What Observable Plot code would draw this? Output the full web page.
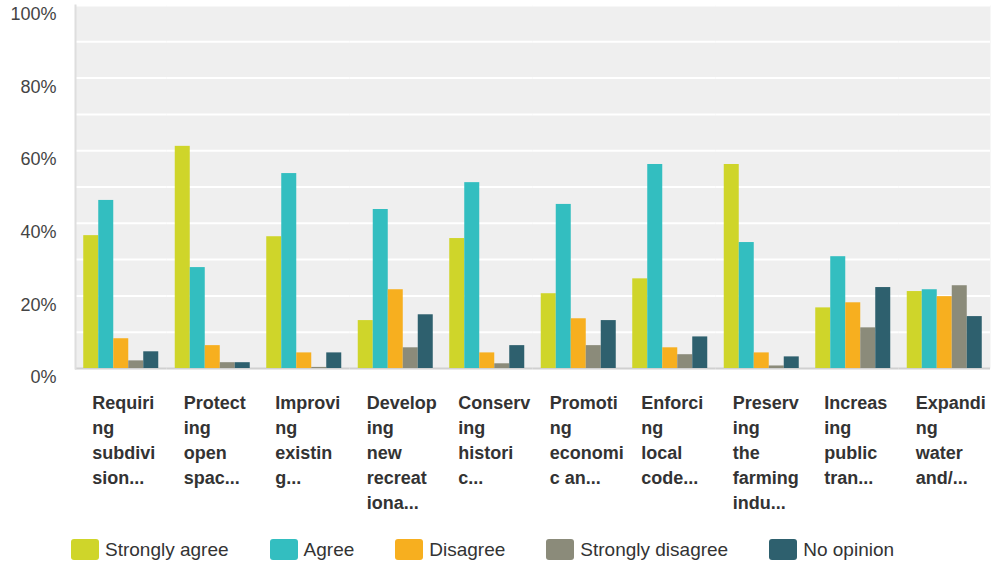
<!DOCTYPE html>
<html>
<head>
<meta charset="utf-8">
<script src="https://cdn.jsdelivr.net/npm/d3@7"></script>
<script src="https://cdn.jsdelivr.net/npm/@observablehq/plot@0.6"></script>
<style>
  html, body { margin: 0; padding: 0; background: #fff; }
  body { width: 995px; height: 564px; overflow: hidden; font-family: "Liberation Sans", Arial, sans-serif; }
  #legend { display: flex; align-items: center; margin-top: 14px; padding-left: 71px; height: 21px; }
  .item { display: flex; align-items: center; margin-right: 41px; font-size: 19px; color: #333; }
  .sw { width: 28px; height: 21px; border-radius: 3px; margin-right: 6px; }
</style>
</head>
<body>
<div id="chart"></div>
<div id="legend"></div>
<script>
const questions = [
  "Requiring subdivision...", "Protecting open spac...", "Improving existing...",
  "Developing new recreationa...", "Conserving historic...", "Promoting economic an...",
  "Enforcing local code...", "Preserving the farming indu...", "Increasing public tran...",
  "Expanding water and/..."
];
const tickLabels = [
  "Requiri\nng\nsubdivi\nsion...", "Protect\ning\nopen\nspac...", "Improvi\nng\nexistin\ng...",
  "Develop\ning\nnew\nrecreat\niona...", "Conserv\ning\nhistori\nc...", "Promoti\nng\neconomi\nc an...",
  "Enforci\nng\nlocal\ncode...", "Preserv\ning\nthe\nfarming\nindu...", "Increas\ning\npublic\ntran...",
  "Expandi\nng\nwater\nand/..."
];
const responses = ["Strongly agree", "Agree", "Disagree", "Strongly disagree", "No opinion"];
const colors = ["#cfd52a", "#33bec0", "#f7af1f", "#8b8b7a", "#2e606e"];

const stronglyAgree    = [36.6, 61.2, 36.3, 13.2, 35.8, 20.6, 24.7, 56.2, 16.7, 21.2];
const agree            = [46.3, 27.8, 53.7, 43.8, 51.2, 45.2, 56.2, 34.7, 30.8, 21.7];
const disagree         = [ 8.2,  6.3,  4.3, 21.7,  4.3, 13.7,  5.7,  4.3, 18.1, 19.8];
const stronglyDisagree = [ 2.1,  1.6,  0.3,  5.7,  1.3,  6.3,  3.8,  0.7, 11.2, 22.8];
const noOpinion        = [ 4.6,  1.6,  4.3, 14.8,  6.3, 13.2,  8.7,  3.2, 22.3, 14.3];

const yTicks = [0, 20, 40, 60, 80, 100];
const gridTicks = [10, 20, 30, 40, 50, 60, 70, 80, 90, 100];

const seriesValues = [stronglyAgree, agree, disagree, stronglyDisagree, noOpinion];
const data = [];
questions.forEach((q, i) => {
  responses.forEach((r, j) => data.push({question: q, response: r, value: seriesValues[j][i]}));
});
const labelOf = new Map(questions.map((q, i) => [q, tickLabels[i]]));

const chart = Plot.plot({
  width: 995,
  height: 525,
  marginLeft: 75,
  marginRight: 5,
  marginTop: 5,
  marginBottom: 157,
  style: {fontFamily: "Liberation Sans, Arial, sans-serif", background: "#fff"},
  fx: {domain: questions, paddingInner: 0, paddingOuter: 0, round: false, label: null, axis: null},
  x: {domain: responses, axis: null, paddingInner: 0, paddingOuter: 0.55, round: false},
  y: {domain: [0, 100], axis: null},
  color: {domain: responses, range: colors},
  marks: [
    Plot.frame({facet: "super", fill: "#efefef", stroke: null}),
    Plot.gridY(gridTicks, {stroke: "#fff", strokeOpacity: 1, strokeWidth: 2}),
    Plot.ruleY([0], {stroke: "#d0d0d0", strokeWidth: 2}),
    Plot.frame({facet: "super", anchor: "left", stroke: "#dedede", strokeWidth: 2}),
    Plot.barY(data, {fx: "question", x: "response", y: "value", fill: "response", insetLeft: 0, insetRight: 0}),
    Plot.axisY(yTicks, {
      tickSize: 0, tickPadding: 19, dy: 9, fontSize: 18, fill: "#444",
      tickFormat: d => d + "%", label: null
    }),
    Plot.axisFx({
      anchor: "bottom",
      tickSize: 0, tickPadding: 23, textAnchor: "start", dx: -29,
      fontSize: 18, fontWeight: "bold", fill: "#333", lineHeight: 1.39,
      tickFormat: d => labelOf.get(d), label: null
    })
  ]
});
document.getElementById("chart").appendChild(chart);

const legend = document.getElementById("legend");
responses.forEach((r, i) => {
  const item = document.createElement("div");
  item.className = "item";
  const sw = document.createElement("span");
  sw.className = "sw";
  sw.style.background = colors[i];
  const t = document.createElement("span");
  t.textContent = r;
  item.appendChild(sw);
  item.appendChild(t);
  legend.appendChild(item);
});
</script>
</body>
</html>
